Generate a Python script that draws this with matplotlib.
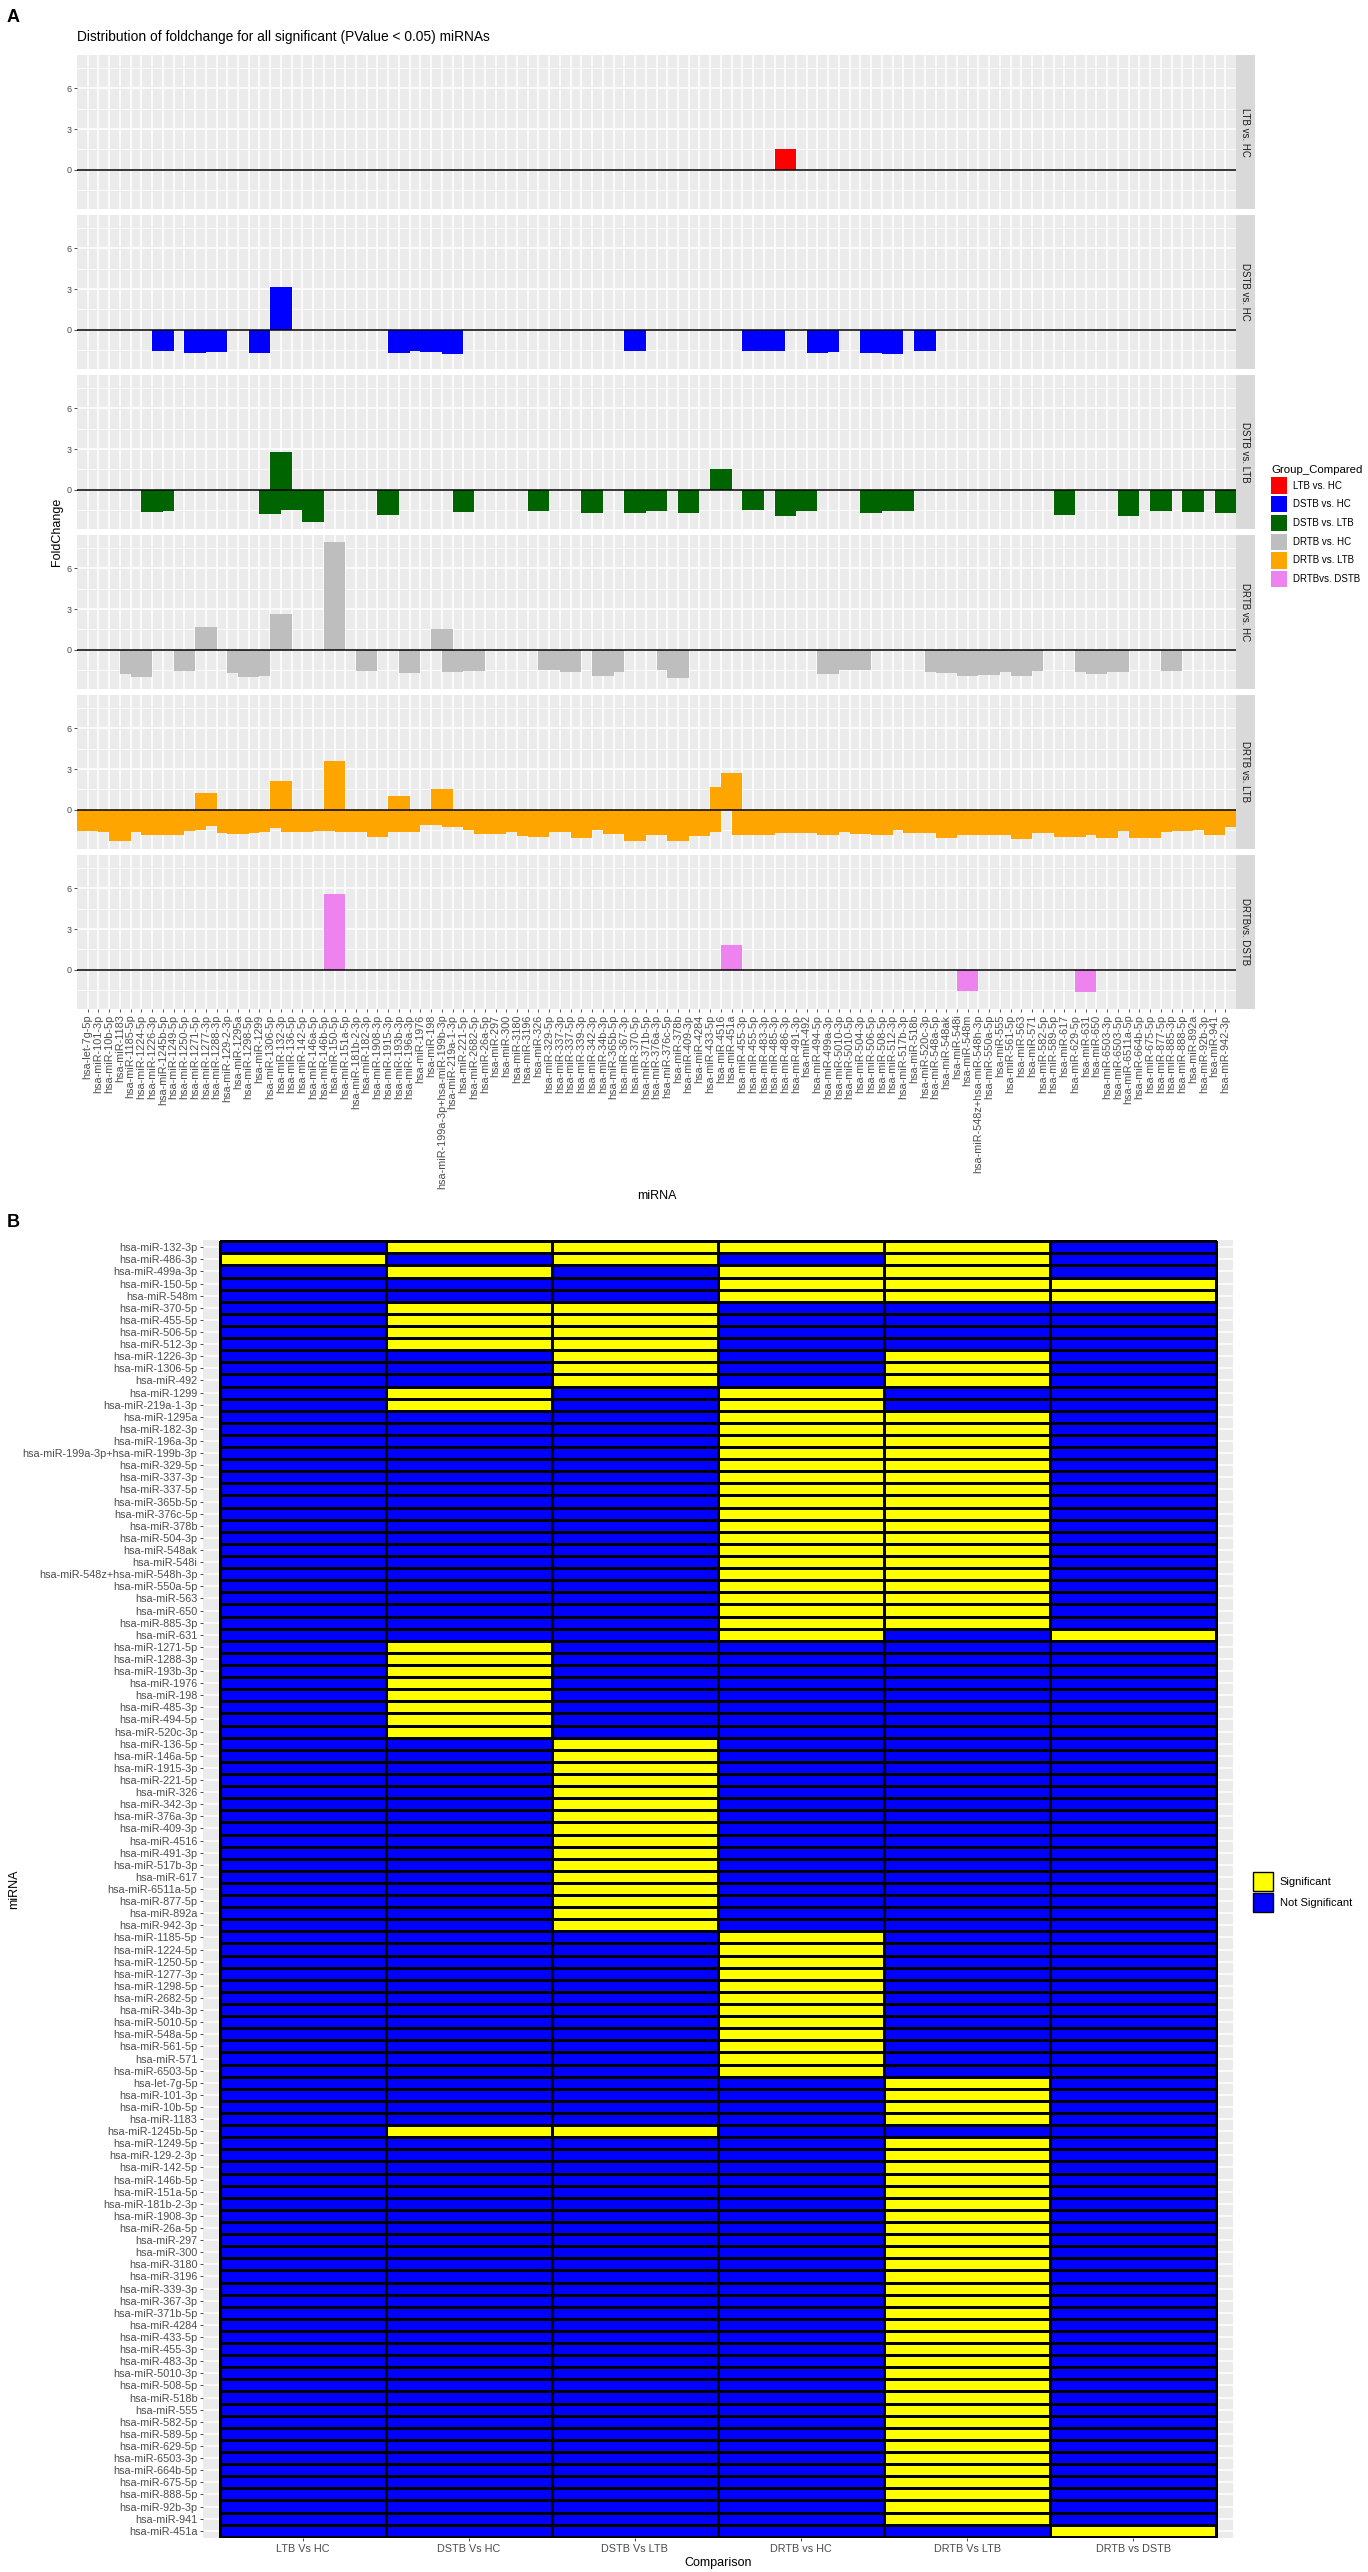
import matplotlib
matplotlib.use("Agg")
import matplotlib.pyplot as plt
from matplotlib.patches import Patch
from matplotlib.colors import ListedColormap
import numpy as np

plt.rcParams['font.family'] = ['Liberation Sans', 'DejaVu Sans']

# ---- data ---------------------------------------------------------------
# miRNAs in heatmap (panel B) row order, top to bottom
heatmap_mirnas = [
    "hsa-miR-132-3p", "hsa-miR-486-3p", "hsa-miR-499a-3p", "hsa-miR-150-5p", "hsa-miR-548m",
    "hsa-miR-370-5p", "hsa-miR-455-5p", "hsa-miR-506-5p", "hsa-miR-512-3p", "hsa-miR-1226-3p",
    "hsa-miR-1306-5p", "hsa-miR-492", "hsa-miR-1299", "hsa-miR-219a-1-3p", "hsa-miR-1295a",
    "hsa-miR-182-3p", "hsa-miR-196a-3p", "hsa-miR-199a-3p+hsa-miR-199b-3p", "hsa-miR-329-5p",
    "hsa-miR-337-3p", "hsa-miR-337-5p", "hsa-miR-365b-5p", "hsa-miR-376c-5p", "hsa-miR-378b",
    "hsa-miR-504-3p", "hsa-miR-548ak", "hsa-miR-548i", "hsa-miR-548z+hsa-miR-548h-3p",
    "hsa-miR-550a-5p", "hsa-miR-563", "hsa-miR-650", "hsa-miR-885-3p", "hsa-miR-631",
    "hsa-miR-1271-5p", "hsa-miR-1288-3p", "hsa-miR-193b-3p", "hsa-miR-1976", "hsa-miR-198",
    "hsa-miR-485-3p", "hsa-miR-494-5p", "hsa-miR-520c-3p", "hsa-miR-136-5p", "hsa-miR-146a-5p",
    "hsa-miR-1915-3p", "hsa-miR-221-5p", "hsa-miR-326", "hsa-miR-342-3p", "hsa-miR-376a-3p",
    "hsa-miR-409-3p", "hsa-miR-4516", "hsa-miR-491-3p", "hsa-miR-517b-3p", "hsa-miR-617",
    "hsa-miR-6511a-5p", "hsa-miR-877-5p", "hsa-miR-892a", "hsa-miR-942-3p", "hsa-miR-1185-5p",
    "hsa-miR-1224-5p", "hsa-miR-1250-5p", "hsa-miR-1277-3p", "hsa-miR-1298-5p", "hsa-miR-2682-5p",
    "hsa-miR-34b-3p", "hsa-miR-5010-5p", "hsa-miR-548a-5p", "hsa-miR-561-5p", "hsa-miR-571",
    "hsa-miR-6503-5p", "hsa-let-7g-5p", "hsa-miR-101-3p", "hsa-miR-10b-5p", "hsa-miR-1183",
    "hsa-miR-1245b-5p", "hsa-miR-1249-5p", "hsa-miR-129-2-3p", "hsa-miR-142-5p", "hsa-miR-146b-5p",
    "hsa-miR-151a-5p", "hsa-miR-181b-2-3p", "hsa-miR-1908-3p", "hsa-miR-26a-5p", "hsa-miR-297",
    "hsa-miR-300", "hsa-miR-3180", "hsa-miR-3196", "hsa-miR-339-3p", "hsa-miR-367-3p",
    "hsa-miR-371b-5p", "hsa-miR-4284", "hsa-miR-433-5p", "hsa-miR-455-3p", "hsa-miR-483-3p",
    "hsa-miR-5010-3p", "hsa-miR-508-5p", "hsa-miR-518b", "hsa-miR-555", "hsa-miR-582-5p",
    "hsa-miR-589-5p", "hsa-miR-629-5p", "hsa-miR-6503-3p", "hsa-miR-664b-5p", "hsa-miR-675-5p",
    "hsa-miR-888-5p", "hsa-miR-92b-3p", "hsa-miR-941", "hsa-miR-451a",
]

# panel A x axis is alphabetical
mirnas_sorted = sorted(heatmap_mirnas)

fc_ltb_hc = {"hsa-miR-486-3p": 1.55}

fc_dstb_hc = {
    "hsa-miR-1245b-5p": -1.60, "hsa-miR-1271-5p": -1.72, "hsa-miR-1288-3p": -1.67,
    "hsa-miR-1299": -1.72, "hsa-miR-132-3p": 3.12, "hsa-miR-193b-3p": -1.72,
    "hsa-miR-1976": -1.55, "hsa-miR-198": -1.65, "hsa-miR-219a-1-3p": -1.80,
    "hsa-miR-370-5p": -1.57, "hsa-miR-455-5p": -1.57, "hsa-miR-485-3p": -1.55,
    "hsa-miR-494-5p": -1.74, "hsa-miR-499a-3p": -1.65, "hsa-miR-506-5p": -1.74,
    "hsa-miR-512-3p": -1.82, "hsa-miR-520c-3p": -1.60,
}

fc_dstb_ltb = {
    "hsa-miR-1226-3p": -1.65, "hsa-miR-1245b-5p": -1.57, "hsa-miR-1306-5p": -1.79,
    "hsa-miR-132-3p": 2.75, "hsa-miR-136-5p": -1.52, "hsa-miR-146a-5p": -2.38,
    "hsa-miR-1915-3p": -1.87, "hsa-miR-221-5p": -1.65, "hsa-miR-326": -1.57,
    "hsa-miR-342-3p": -1.74, "hsa-miR-370-5p": -1.70, "hsa-miR-376a-3p": -1.55,
    "hsa-miR-409-3p": -1.72, "hsa-miR-4516": 1.52, "hsa-miR-455-5p": -1.52,
    "hsa-miR-486-3p": -1.94, "hsa-miR-491-3p": -1.50, "hsa-miR-492": -1.55,
    "hsa-miR-506-5p": -1.74, "hsa-miR-512-3p": -1.60, "hsa-miR-517b-3p": -1.58,
    "hsa-miR-617": -1.89, "hsa-miR-6511a-5p": -1.97, "hsa-miR-877-5p": -1.57,
    "hsa-miR-892a": -1.67, "hsa-miR-942-3p": -1.74,
}

fc_drtb_hc = {
    "hsa-miR-1185-5p": -1.79, "hsa-miR-1224-5p": -2.04, "hsa-miR-1250-5p": -1.57,
    "hsa-miR-1277-3p": 1.67, "hsa-miR-1295a": -1.70, "hsa-miR-1298-5p": -2.00,
    "hsa-miR-1299": -1.92, "hsa-miR-132-3p": 2.65, "hsa-miR-150-5p": 7.94,
    "hsa-miR-182-3p": -1.60, "hsa-miR-196a-3p": -1.72, "hsa-miR-199a-3p+hsa-miR-199b-3p": 1.55,
    "hsa-miR-219a-1-3p": -1.67, "hsa-miR-2682-5p": -1.55, "hsa-miR-329-5p": -1.52,
    "hsa-miR-337-3p": -1.50, "hsa-miR-337-5p": -1.65, "hsa-miR-34b-3p": -1.94,
    "hsa-miR-365b-5p": -1.62, "hsa-miR-376c-5p": -1.52, "hsa-miR-378b": -2.11,
    "hsa-miR-499a-3p": -1.79, "hsa-miR-5010-5p": -1.52, "hsa-miR-504-3p": -1.52,
    "hsa-miR-548a-5p": -1.67, "hsa-miR-548ak": -1.74, "hsa-miR-548i": -1.70,
    "hsa-miR-548m": -1.97, "hsa-miR-548z+hsa-miR-548h-3p": -1.80, "hsa-miR-550a-5p": -1.84,
    "hsa-miR-561-5p": -1.62, "hsa-miR-563": -1.92, "hsa-miR-571": -1.55,
    "hsa-miR-631": -1.62, "hsa-miR-650": -1.79, "hsa-miR-6503-5p": -1.62,
    "hsa-miR-885-3p": -1.55,
}

# DRTB vs LTB: every miRNA, in alphabetical order
fc_drtb_ltb_values = [
    -1.60, -1.60, -1.65, -2.33, -1.62, -1.62, -1.84, -1.84, -1.84, -1.60,
    -1.52, 1.20, -1.18, -1.74, -1.79, -1.74, -1.62, -1.33, 2.10, -1.67,
    -1.67, -1.55, -1.55, 3.60, -1.62, -1.62, -1.62, -2.01, -1.62, 1.00,
    -1.67, -1.10, -1.10, 1.50, -1.30, -1.30, -1.47, -1.82, -1.77, -1.62,
    -1.62, -1.94, -1.99, -1.67, -1.67, -1.67, -2.11, -1.47, -1.47, -1.79,
    -1.79, -2.28, -1.89, -1.89, -1.89, -2.33, -1.94, -1.94, -1.67, 1.70,
    2.70, -1.87, -1.87, -1.87, -1.69, -1.69, -1.74, -1.74, -1.74, -1.89,
    -1.62, -1.62, -1.77, -1.77, -1.84, -1.47, -1.47, -1.69, -1.69, -1.69,
    -2.11, -1.84, -1.84, -1.84, -1.84, -1.84, -1.84, -2.19, -1.69, -1.69,
    -1.69, -2.01, -2.01, -1.84, -1.84, -2.06, -1.55, -1.55, -2.08, -2.08,
    -1.67, -1.60, -1.60, -1.50, -1.50, -1.84, -1.25,
]
fc_drtb_ltb = dict(zip(mirnas_sorted, fc_drtb_ltb_values))

fc_drtb_dstb = {
    "hsa-miR-150-5p": 5.61, "hsa-miR-451a": 1.81,
    "hsa-miR-548m": -1.59, "hsa-miR-631": -1.64,
}

# significance calls shown in the heatmap
sig_drtb_ltb = [
    "hsa-miR-132-3p", "hsa-miR-486-3p", "hsa-miR-499a-3p", "hsa-miR-150-5p", "hsa-miR-548m",
    "hsa-miR-1226-3p", "hsa-miR-1306-5p", "hsa-miR-492", "hsa-miR-1295a", "hsa-miR-182-3p",
    "hsa-miR-196a-3p", "hsa-miR-199a-3p+hsa-miR-199b-3p", "hsa-miR-329-5p", "hsa-miR-337-3p",
    "hsa-miR-337-5p", "hsa-miR-365b-5p", "hsa-miR-376c-5p", "hsa-miR-378b", "hsa-miR-504-3p",
    "hsa-miR-548ak", "hsa-miR-548i", "hsa-miR-548z+hsa-miR-548h-3p", "hsa-miR-550a-5p",
    "hsa-miR-563", "hsa-miR-650", "hsa-miR-885-3p", "hsa-let-7g-5p", "hsa-miR-101-3p",
    "hsa-miR-10b-5p", "hsa-miR-1183", "hsa-miR-1249-5p", "hsa-miR-129-2-3p", "hsa-miR-142-5p",
    "hsa-miR-146b-5p", "hsa-miR-151a-5p", "hsa-miR-181b-2-3p", "hsa-miR-1908-3p",
    "hsa-miR-26a-5p", "hsa-miR-297", "hsa-miR-300", "hsa-miR-3180", "hsa-miR-3196",
    "hsa-miR-339-3p", "hsa-miR-367-3p", "hsa-miR-371b-5p", "hsa-miR-4284", "hsa-miR-433-5p",
    "hsa-miR-455-3p", "hsa-miR-483-3p", "hsa-miR-5010-3p", "hsa-miR-508-5p", "hsa-miR-518b",
    "hsa-miR-555", "hsa-miR-582-5p", "hsa-miR-589-5p", "hsa-miR-629-5p", "hsa-miR-6503-3p",
    "hsa-miR-664b-5p", "hsa-miR-675-5p", "hsa-miR-888-5p", "hsa-miR-92b-3p", "hsa-miR-941",
]

facet_labels = ["LTB vs. HC", "DSTB vs. HC", "DSTB vs. LTB", "DRTB vs. HC", "DRTB vs. LTB", "DRTBvs. DSTB"]
facet_colors = ["#FF0000", "#0000FF", "#006400", "#BEBEBE", "#FFA500", "#EE82EE"]
facet_data = [fc_ltb_hc, fc_dstb_hc, fc_dstb_ltb, fc_drtb_hc, fc_drtb_ltb, fc_drtb_dstb]

comparisons = ["LTB Vs HC", "DSTB Vs HC", "DSTB Vs LTB", "DRTB vs HC", "DRTB Vs LTB", "DRTB vs DSTB"]
sig_sets = [list(fc_ltb_hc), list(fc_dstb_hc), list(fc_dstb_ltb),
            list(fc_drtb_hc), sig_drtb_ltb, list(fc_drtb_dstb)]

# ---- figure -------------------------------------------------------------
W, H = 1368, 2572
fig = plt.figure(figsize=(W / 100, H / 100), dpi=100)
BG = '#EBEBEB'
TXT = '#4D4D4D'


def px_axes(x0, y0, x1, y1):
    return fig.add_axes([x0 / W, 1 - y1 / H, (x1 - x0) / W, (y1 - y0) / H])


def clean(ax):
    for s in ax.spines.values():
        s.set_visible(False)


# Panel A: faceted fold-change bars
xpos = {m: i + 1 for i, m in enumerate(mirnas_sorted)}
all_fc = [v for d in facet_data for v in d.values()]
lo, hi = min(all_fc), max(all_fc)
pad = 0.05 * (hi - lo)

PX0, PX1 = 77, 1236
for k, (fc, col, lab) in enumerate(zip(facet_data, facet_colors, facet_labels)):
    top = 55 + 160 * k
    ax = px_axes(PX0, top, PX1, top + 154)
    ax.set_facecolor(BG)
    names = list(fc.keys())
    ax.bar([xpos[m] for m in names], [fc[m] for m in names], width=2.0,
           color=col, linewidth=0, zorder=2)
    ax.axhline(0, color='black', lw=1.1, zorder=3)
    ax.set_xlim(0, 108)
    ax.set_ylim(lo - pad, hi + pad)
    ax.set_yticks([0, 3, 6])
    ax.set_yticks([-1.5, 1.5, 4.5, 7.5], minor=True)
    ax.set_xticks(range(1, len(mirnas_sorted) + 1))
    ax.grid(which='major', color='white', lw=1.1, zorder=0)
    ax.grid(which='minor', axis='y', color='white', lw=0.55, zorder=0)
    ax.set_axisbelow(True)
    clean(ax)
    ax.tick_params(axis='y', which='major', labelsize=6.5, labelcolor=TXT,
                   color='#333333', length=2.5, width=0.6, pad=1.5)
    ax.tick_params(which='minor', length=0)
    if k < 5:
        ax.tick_params(axis='x', labelbottom=False, length=0)
    else:
        ax.set_xticklabels(mirnas_sorted, rotation=90, fontsize=7.8, color=TXT)
        ax.tick_params(axis='x', color='#333333', length=2.5, width=0.6, pad=1.5)

    sax = px_axes(PX1, top, PX1 + 19, top + 154)
    sax.set_facecolor('#D9D9D9')
    sax.set_xticks([])
    sax.set_yticks([])
    clean(sax)
    sax.text(0.5, 0.5, lab, rotation=-90, ha='center', va='center',
             fontsize=7, color='#1A1A1A', transform=sax.transAxes)

fig.text(13 / W, 1 - 17 / H, 'A', fontsize=13, fontweight='bold', ha='center', va='center')
fig.text(PX0 / W, 1 - 37 / H,
         'Distribution of foldchange for all significant (PValue < 0.05) miRNAs',
         fontsize=9.9, ha='left', va='center')
fig.text(57 / W, 1 - 532 / H, 'FoldChange', rotation=90, fontsize=9, ha='center', va='center')
fig.text((PX0 + PX1) / 2 / W, 1 - 1196 / H, 'miRNA', fontsize=9, ha='center', va='center')

handles_a = [Patch(facecolor=c, edgecolor='none', label=l) for c, l in zip(facet_colors, facet_labels)]
fig.legend(handles=handles_a, title='Group_Compared', loc='upper left',
           bbox_to_anchor=(1271 / W, 1 - 465 / H), frameon=False, fontsize=7,
           title_fontsize=8.2, handlelength=1.65, handleheight=2.2, labelspacing=0.25,
           handletextpad=0.6, borderpad=0, borderaxespad=0, alignment='left')

# Panel B: significance heatmap
n = len(heatmap_mirnas)
Z = np.array([[1 if m in s else 0 for s in sig_sets] for m in heatmap_mirnas])
hax = px_axes(203, 1240, 1233, 2538)
hax.set_facecolor(BG)
hax.pcolormesh(np.arange(0.5, len(comparisons) + 1), np.arange(0.5, n + 1), Z,
               cmap=ListedColormap(['#0000FF', '#FFFF00']), vmin=0, vmax=1,
               edgecolors='black', linewidth=0.8, zorder=2)
hax.set_xlim(0.4, len(comparisons) + 0.6)
hax.set_ylim(n + 0.6, 0.4)
hax.set_xticks(range(1, len(comparisons) + 1))
hax.set_xticklabels(comparisons, fontsize=7.8, color=TXT)
hax.set_yticks(range(1, n + 1))
hax.set_yticklabels(heatmap_mirnas, fontsize=7.8, color=TXT)
hax.grid(color='white', lw=1.1, zorder=0)
hax.set_axisbelow(True)
clean(hax)
hax.tick_params(color='#333333', length=2.5, width=0.6, pad=1.5)

fig.text(13 / W, 1 - 1222 / H, 'B', fontsize=13, fontweight='bold', ha='center', va='center')
fig.text(14 / W, 1 - 1889 / H, 'miRNA', rotation=90, fontsize=9, ha='center', va='center')
fig.text((203 + 1233) / 2 / W, 1 - 2563 / H, 'Comparison', fontsize=9, ha='center', va='center')

handles_b = [Patch(facecolor='#FFFF00', edgecolor='black', label='Significant'),
             Patch(facecolor='#0000FF', edgecolor='black', label='Not Significant')]
fig.legend(handles=handles_b, loc='center left', bbox_to_anchor=(1253 / W, 1 - 1892 / H),
           frameon=False, fontsize=8, handlelength=1.8, handleheight=2.25,
           labelspacing=0.1, handletextpad=0.6, borderpad=0, borderaxespad=0)

fig.savefig('out.png', dpi=100)
